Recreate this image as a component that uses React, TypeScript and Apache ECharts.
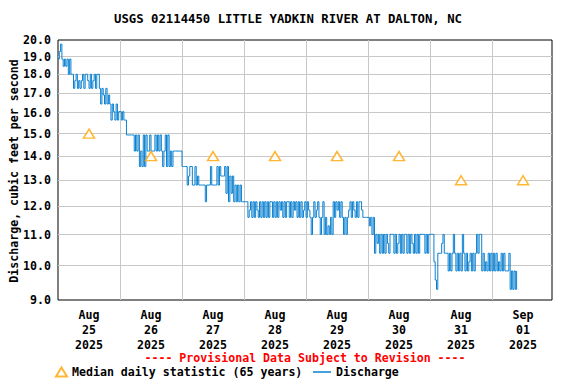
import React, { useEffect, useRef } from "react";
import * as echarts from "echarts";

const TITLE = "USGS 02114450 LITTLE YADKIN RIVER AT DALTON, NC";
const Y_AXIS_NAME = "Discharge, cubic feet per second";
const PROVISIONAL = "---- Provisional Data Subject to Revision ----";
const MEDIAN_NAME = "Median daily statistic (65 years)";
const DISCHARGE_NAME = "Discharge";

const DAY_LABELS = [
  "Aug\n25\n2025",
  "Aug\n26\n2025",
  "Aug\n27\n2025",
  "Aug\n28\n2025",
  "Aug\n29\n2025",
  "Aug\n30\n2025",
  "Aug\n31\n2025",
  "Sep\n01\n2025",
];
const MEDIAN = [15.0, 14.0, 14.0, 14.0, 14.0, 14.0, 13.0, 13.0];
const Y_TICKS = [9, 10, 11, 12, 13, 14, 15, 16, 17, 18, 19, 20];

// Discharge, one value every 30 minutes, per day (cfs)
const AUG25 = [
  18.86, 19.3, 19.75, 18.86, 18.45, 18.86, 18.45, 18.86, 18.0, 18.86,
  18.0, 18.0, 17.24, 17.65, 18.0, 17.24, 17.65, 17.24, 17.65, 18.0,
  17.24, 18.0, 18.0, 17.65, 17.24, 18.0, 17.24, 17.65, 18.0, 17.24,
  18.0, 18.0, 17.24, 16.43, 17.24, 16.89, 16.43, 17.24, 16.43, 16.89,
  16.43, 15.64, 16.43, 16.05, 15.64, 16.43, 15.64, 16.05,
];
const AUG26 = [
  16.05, 15.64, 16.05, 15.64, 15.64, 14.94, 14.94, 14.94, 14.94, 14.94,
  14.94, 14.22, 14.94, 14.22, 14.94, 13.56, 14.22, 13.56, 14.94, 13.56,
  14.94, 14.22, 14.22, 14.94, 14.22, 14.22, 14.22, 14.94, 14.22, 14.94,
  14.22, 14.94, 14.22, 13.56, 14.22, 14.94, 13.56, 14.94, 13.56, 14.22,
  13.56, 14.22, 14.22, 14.22, 14.22, 14.22, 14.22, 14.22,
];
const AUG27 = [
  13.56, 13.56, 13.56, 13.56, 12.81, 13.17, 13.56, 13.56, 12.81, 12.81,
  13.56, 12.81, 13.17, 12.81, 12.81, 12.81, 12.81, 12.81, 12.17, 12.81,
  12.81, 12.81, 13.56, 12.81, 12.81, 12.81, 12.81, 13.56, 12.81, 13.56,
  13.17, 13.17, 13.17, 13.56, 12.49, 13.56, 12.17, 13.17, 12.49, 13.17,
  12.17, 12.81, 12.17, 12.81, 12.17, 12.81, 12.17, 12.17,
];
const AUG28 = [
  12.17, 12.17, 12.17, 11.6, 11.86, 12.17, 11.6, 12.17, 11.6, 12.17,
  11.86, 11.6, 12.17, 11.6, 12.17, 11.6, 12.17, 11.6, 12.17, 11.6,
  12.17, 12.17, 11.6, 12.17, 11.6, 12.17, 11.6, 12.17, 11.86, 12.17,
  11.6, 12.17, 11.6, 12.17, 12.17, 11.6, 12.17, 11.6, 12.17, 11.86,
  12.17, 11.6, 12.17, 11.6, 12.17, 11.6, 11.86, 12.17,
];
const AUG29 = [
  11.6, 12.17, 11.86, 11.6, 11.01, 11.6, 12.17, 11.6, 11.86, 12.17,
  11.6, 11.01, 11.6, 12.17, 11.01, 11.6, 11.01, 11.3, 11.01, 11.6,
  11.01, 12.17, 11.6, 12.17, 11.86, 12.17, 11.6, 12.17, 11.6, 11.01,
  11.6, 11.01, 11.6, 11.86, 12.17, 11.6, 12.17, 11.86, 11.6, 12.17,
  11.6, 12.17, 12.17, 11.86, 11.6, 11.6, 11.6, 11.6,
];
const AUG30 = [
  11.6, 11.3, 11.6, 11.01, 11.6, 10.39, 11.01, 10.71, 11.01, 10.39,
  11.01, 10.39, 11.01, 10.39, 11.01, 10.71, 10.39, 11.01, 11.01, 11.01,
  10.39, 11.01, 10.39, 10.71, 11.01, 10.39, 11.01, 10.39, 11.01, 11.01,
  10.39, 11.01, 10.39, 11.01, 10.71, 10.39, 11.01, 10.39, 11.01, 10.39,
  11.01, 11.01, 11.01, 11.01, 10.39, 11.01, 10.39, 11.01,
];
const AUG31 = [
  11.01, 11.01, 11.01, 10.12, 9.57, 9.3, 10.39, 10.39, 10.39, 10.71,
  11.01, 10.39, 10.39, 10.39, 9.84, 10.39, 9.84, 10.39, 11.01, 10.39,
  9.84, 10.39, 9.84, 10.39, 9.84, 11.01, 10.39, 9.84, 10.39, 9.84,
  10.12, 10.39, 9.84, 10.39, 9.84, 10.39, 11.01, 10.39, 11.01, 11.01,
  9.84, 10.39, 9.84, 10.12, 9.84, 10.39, 9.84, 10.39,
];
const SEP01 = [
  9.84, 10.39, 9.84, 10.39, 9.84, 10.12, 9.84, 10.39, 9.84, 10.39,
  9.84, 9.84, 9.84, 10.39, 9.3, 9.84, 9.3, 9.84, 9.3, 9.84,
];

const DAYS = [AUG25, AUG26, AUG27, AUG28, AUG29, AUG30, AUG31, SEP01];
const HOURS_PER_DAY = 24;
const STEP_HOURS = 0.5;
const X_MAX = 191.2;

const FONT = "'DejaVu Sans Mono', monospace";
const BLUE = "#0a80d0";
const ORANGE = "#ffa500";

export default function App() {
  const ref = useRef<HTMLDivElement>(null);

  useEffect(() => {
    if (!ref.current) return;
    const chart = echarts.init(ref.current, undefined, { renderer: "svg" });

    const discharge: number[][] = [];
    DAYS.forEach((arr, d) => {
      arr.forEach((v, k) => {
        discharge.push([d * HOURS_PER_DAY + k * STEP_HOURS, v]);
      });
    });
    const medianData = MEDIAN.map((v, d) => [d * HOURS_PER_DAY + HOURS_PER_DAY / 2, v]);
    const labelPositions = DAY_LABELS.map((_, d) => d * HOURS_PER_DAY + HOURS_PER_DAY / 2);
    const gridPositions = DAY_LABELS.slice(1).map((_, d) => (d + 1) * HOURS_PER_DAY);
    const innerYTicks = Y_TICKS.slice(1, -1);

    const textBase = { fontFamily: FONT, fontWeight: "bold" as const, color: "#000", fontSize: 11.6 };

    chart.setOption({
      animation: false,
      backgroundColor: "#fff",
      title: {
        text: TITLE,
        left: "center",
        top: 13,
        padding: 0,
        textStyle: { ...textBase, fontSize: 12.3 },
      },
      grid: {
        left: 58,
        top: 40,
        width: 494,
        height: 260,
        show: true,
        borderColor: "#000",
        borderWidth: 1,
        backgroundColor: "transparent",
      },
      xAxis: {
        type: "value",
        min: 0,
        max: X_MAX,
        axisLine: { show: false },
        axisTick: { show: false, customValues: gridPositions },
        splitLine: { show: true, lineStyle: { color: "#c8c8c8", width: 1 } },
        axisLabel: {
          customValues: labelPositions,
          formatter: (v: number) => DAY_LABELS[Math.floor(v / HOURS_PER_DAY)] || "",
          ...textBase,
          lineHeight: 15,
          margin: 7,
          align: "center",
        },
      },
      yAxis: {
        type: "log",
        logBase: 10,
        min: 9,
        max: 20,
        axisLine: { show: false },
        axisTick: { show: false, customValues: innerYTicks },
        splitLine: { show: true, lineStyle: { color: "#c8c8c8", width: 1 } },
        axisLabel: {
          customValues: Y_TICKS,
          formatter: (v: number) => v.toFixed(1),
          ...textBase,
          margin: 7,
        },
      },
      legend: [
        {
          data: [MEDIAN_NAME],
          left: 55,
          top: 366,
          itemWidth: 11,
          itemHeight: 9,
          padding: 0,
          textStyle: { ...textBase },
        },
        {
          data: [{ name: DISCHARGE_NAME, icon: "rect", itemStyle: { color: BLUE } }],
          left: 313,
          top: 366,
          itemWidth: 18,
          itemHeight: 1.5,
          padding: 0,
          textStyle: { ...textBase },
        },
      ],
      graphic: [
        {
          type: "text",
          x: 14,
          y: 171,
          rotation: Math.PI / 2,
          style: {
            text: Y_AXIS_NAME,
            align: "center",
            verticalAlign: "middle",
            font: `bold 11.6px ${FONT}`,
            fill: "#000",
          },
        },
        {
          type: "text",
          x: 305,
          y: 358,
          style: {
            text: PROVISIONAL,
            align: "center",
            verticalAlign: "middle",
            font: `bold 11.6px ${FONT}`,
            fill: "#ff0000",
          },
        },
      ],
      series: [
        {
          name: DISCHARGE_NAME,
          type: "line",
          step: "end",
          data: discharge,
          symbol: "none",
          showSymbol: false,
          lineStyle: { color: BLUE, width: 1 },
          itemStyle: { color: BLUE },
          z: 3,
        },
        {
          name: MEDIAN_NAME,
          type: "scatter",
          data: medianData,
          symbol: "triangle",
          symbolSize: [11, 9],
          itemStyle: { color: "#fff", borderColor: ORANGE, borderWidth: 1.5 },
          z: 4,
        },
      ],
    });

    return () => chart.dispose();
  }, []);

  return (
    <div
      ref={ref}
      style={{ position: "absolute", left: 0, top: 0, width: 576, height: 384 }}
    />
  );
}
